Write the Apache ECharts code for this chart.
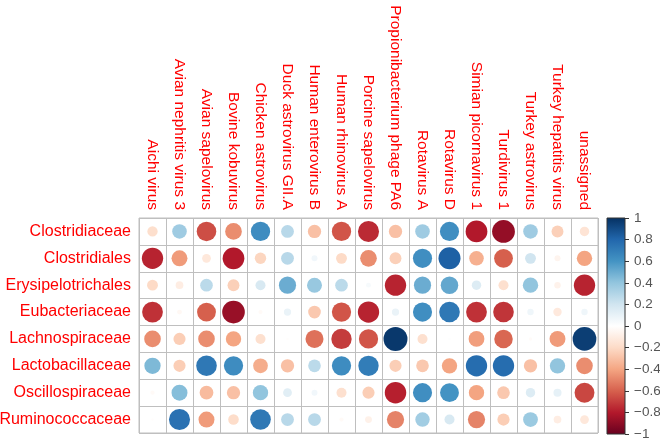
<!DOCTYPE html>
<html>
<head>
<meta charset="utf-8">
<script src="https://cdn.jsdelivr.net/npm/echarts@6/dist/echarts.min.js"></script>
<style>
html,body{margin:0;padding:0;background:#fff;}
#chart{width:660px;height:441px;}
</style>
</head>
<body>
<div id="chart"></div>
<script>
var columns = ["Aichi virus","Avian nephritis virus 3","Avian sapelovirus","Bovine kobuvirus","Chicken astrovirus","Duck astrovirus GII.A","Human enterovirus B","Human rhinovirus A","Porcine sapelovirus","Propionibacterium phage PA6","Rotavirus A","Rotavirus D","Simian picornavirus 1","Turdivirus 1","Turkey astrovirus","Turkey hepatitis virus","unassigned"];
var rows = ["Clostridiaceae","Clostridiales","Erysipelotrichales","Eubacteriaceae","Lachnospiraceae","Lactobacillaceae","Oscillospiraceae","Ruminococcaceae"];

var clostridiaceae     = [-0.18, 0.36,-0.65,-0.47, 0.63, 0.28,-0.30,-0.63,-0.75,-0.30, 0.36, 0.62,-0.80,-0.88, 0.36,-0.24,-0.15];
var clostridiales      = [-0.77,-0.43,-0.13,-0.80,-0.22, 0.28, 0.06,-0.20,-0.47,-0.24, 0.62, 0.82,-0.36,-0.60, 0.20,-0.06,-0.40];
var erysipelotrichales = [-0.20,-0.10, 0.27,-0.24, 0.17, 0.50, 0.38, 0.27, 0.04,-0.77, 0.50, 0.52, 0.15,-0.17, 0.40,-0.07,-0.77];
var eubacteriaceae     = [-0.73,-0.04,-0.60,-0.87,-0.03, 0.09,-0.27,-0.63,-0.77, 0.09, 0.62, 0.72,-0.73,-0.72, 0.07,-0.12, 0.07];
var lachnospiraceae    = [-0.47,-0.25,-0.47,-0.40,-0.17,-0.01,-0.55,-0.70,-0.63, 0.97,-0.17, 0.01,-0.42,-0.58,-0.02,-0.43, 0.95];
var lactobacillaceae   = [ 0.45,-0.25, 0.72, 0.63,-0.37,-0.30, 0.27, 0.63, 0.70,-0.25,-0.27,-0.40, 0.77, 0.77,-0.30, 0.40,-0.47];
var oscillospiraceae   = [-0.03, 0.43,-0.32,-0.30, 0.40, 0.13, 0.06,-0.17,-0.25,-0.78, 0.62, 0.60,-0.40,-0.27, 0.15, 0.11,-0.67];
var ruminococcaceae    = [-0.01, 0.75,-0.43,-0.19, 0.72, 0.28, 0.28,-0.03,-0.08,-0.50, 0.35, 0.17,-0.50,-0.25, 0.37,-0.10,-0.13];

var matrix = [clostridiaceae, clostridiales, erysipelotrichales, eubacteriaceae, lachnospiraceae, lactobacillaceae, oscillospiraceae, ruminococcaceae];
var colorbarTicks = [-1,-0.8,-0.6,-0.4,-0.2,0,0.2,0.4,0.6,0.8,1];
var palette = ["#67001F","#B2182B","#D6604D","#F4A582","#FDDBC7","#FFFFFF","#D1E5F0","#92C5DE","#4393C3","#2166AC","#053061"];

var data = [];
for (var r = 0; r < rows.length; r++) {
  for (var c = 0; c < columns.length; c++) {
    data.push([c, r, matrix[r][c]]);
  }
}

var FONT = "'Liberation Sans', Arial, Helvetica, sans-serif";
var CELL = 27;
var chart = echarts.init(document.getElementById('chart'), null, {renderer: 'canvas'});

var gradStops = palette.slice().reverse().map(function (col, i) {
  return {offset: i / (palette.length - 1), color: col};
});

chart.setOption({
  animation: false,
  backgroundColor: '#ffffff',
  grid: [
    {left: 139, top: 218, width: 459, height: 215, show: true, borderColor: '#bfbfbf', borderWidth: 1, backgroundColor: 'transparent', containLabel: false, outerBoundsMode: 'none'},
    {left: 607, top: 218, width: 18, height: 216, show: false, containLabel: false, outerBoundsMode: 'none'}
  ],
  visualMap: {
    show: false,
    type: 'continuous',
    seriesIndex: 0,
    dimension: 2,
    min: -1,
    max: 1,
    inRange: {color: palette}
  },
  xAxis: [
    {
      type: 'category', gridIndex: 0, data: columns, position: 'top',
      axisLine: {show: false}, axisTick: {show: false},
      splitLine: {show: true, lineStyle: {color: '#bfbfbf', width: 1}},
      axisLabel: {rotate: 90, interval: 0, color: '#FF0000', fontSize: 15.5, fontFamily: FONT, margin: 8}
    },
    {
      type: 'category', gridIndex: 1, data: ['bar'], show: false
    }
  ],
  yAxis: [
    {
      type: 'category', gridIndex: 0, data: rows, inverse: true,
      axisLine: {show: false}, axisTick: {show: false},
      splitLine: {show: true, lineStyle: {color: '#bfbfbf', width: 1}},
      axisLabel: {interval: 0, color: '#FF0000', fontSize: 16, fontFamily: FONT, margin: 8}
    },
    {
      type: 'value', gridIndex: 1, min: colorbarTicks[0], max: colorbarTicks[colorbarTicks.length - 1], interval: 0.2,
      position: 'right',
      axisLine: {show: false},
      axisTick: {show: true, length: 4, lineStyle: {color: '#333'}},
      splitLine: {show: false},
      axisLabel: {
        color: '#555', fontSize: 13.5, fontFamily: FONT, margin: 9,
        formatter: function (v) {
          var s = String(Math.round(v * 10) / 10);
          return s.replace('-', '\u2212');
        }
      }
    }
  ],
  series: [
    {
      type: 'scatter',
      xAxisIndex: 0, yAxisIndex: 0,
      data: data,
      symbol: 'circle',
      symbolSize: function (val) {
        return Math.sqrt(Math.abs(val[2])) * CELL * 0.9;
      },
      itemStyle: {opacity: 1},
      z: 5
    },
    {
      type: 'custom',
      xAxisIndex: 1, yAxisIndex: 1,
      data: [[0, colorbarTicks[0], colorbarTicks[colorbarTicks.length - 1]]],
      renderItem: function (params, api) {
        var top = api.coord([api.value(0), api.value(2)]);
        var bottom = api.coord([api.value(0), api.value(1)]);
        var w = api.size([1, 0])[0];
        return {
          type: 'rect',
          shape: {x: top[0] - w / 2, y: top[1], width: w, height: bottom[1] - top[1]},
          style: {fill: new echarts.graphic.LinearGradient(0, 0, 0, 1, gradStops), stroke: '#333', lineWidth: 1}
        };
      }
    }
  ]
});
</script>
</body>
</html>
